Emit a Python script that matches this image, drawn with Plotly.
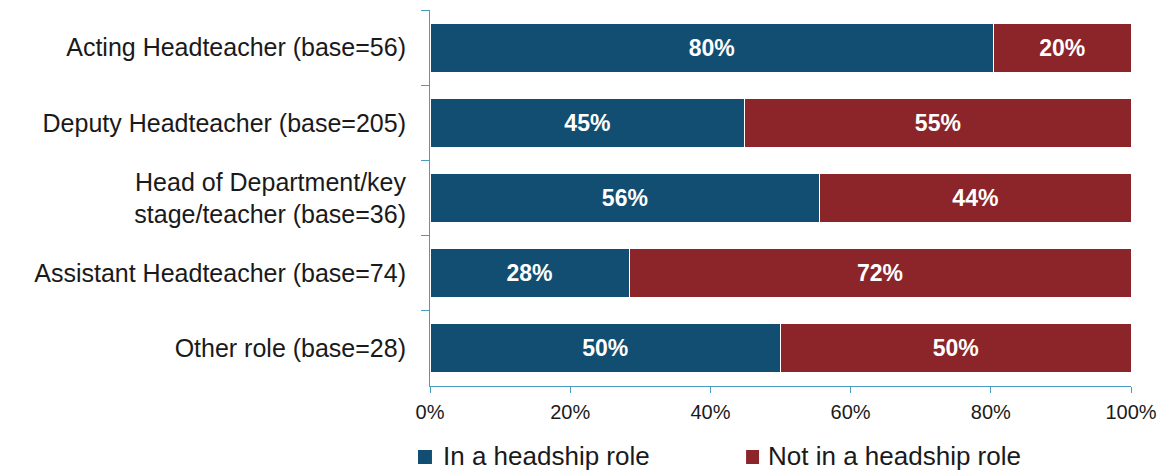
import plotly.graph_objects as go

categories = [
    "Acting Headteacher (base=56)",
    "Deputy Headteacher (base=205)",
    "Head of Department/key<br>stage/teacher (base=36)",
    "Assistant Headteacher (base=74)",
    "Other role (base=28)",
]
in_headship = [80.4, 44.9, 55.6, 28.4, 50.0]
not_headship = [19.6, 55.1, 44.4, 71.6, 50.0]
series_names = ["In a headship role", "Not in a headship role"]
x_ticks = [0, 20, 40, 60, 80, 100]
x_tick_labels = ["0%", "20%", "40%", "60%", "80%", "100%"]

BLUE = "#114E72"
RED = "#8B2529"
AXIS = "#4A9BC2"
FONT = "Liberation Sans, Arial, sans-serif"
colors = [BLUE, RED]

fig = go.Figure()
for name, vals, col in zip(series_names, [in_headship, not_headship], colors):
    fig.add_trace(go.Bar(
        y=categories, x=vals, name=name, orientation="h",
        marker=dict(color=col, line=dict(color="white", width=1)),
        texttemplate="%{x:.0f}%", textposition="inside",
        insidetextanchor="middle",
        textfont=dict(family=FONT, size=23, color="white", weight="bold"),
        hoverinfo="skip", showlegend=False,
    ))

# Legend drawn below the plot (squares + labels)
legend_sq_x = [(-0.0171, 0.0028), (0.4509, 0.4694)]
legend_text_x = [0.0156, 0.4794]
for name, col, (x0, x1), tx in zip(series_names, colors, legend_sq_x, legend_text_x):
    fig.add_shape(type="rect", xref="paper", yref="paper",
                  x0=x0, x1=x1, y0=-0.2074, y1=-0.1702,
                  fillcolor=col, line=dict(width=0))
    fig.add_annotation(xref="paper", yref="paper", x=tx, y=-0.1862,
                       xanchor="left", yanchor="middle", showarrow=False,
                       text=name, font=dict(family=FONT, size=26, color="#1a1a1a"))

fig.update_layout(
    width=1151, height=465,
    barmode="stack", bargap=0.35,
    paper_bgcolor="white", plot_bgcolor="white",
    margin=dict(l=422, r=26, t=2, b=87),
    font=dict(family=FONT, size=24, color="#1a1a1a"),
    showlegend=False,
    uniformtext=dict(mode="show", minsize=10),
)
fig.update_xaxes(
    range=[0, 100], tickvals=x_ticks, ticktext=x_tick_labels,
    showgrid=False, zeroline=False, showline=True, linecolor=AXIS, linewidth=1,
    ticks="outside", ticklen=6, tickcolor=AXIS,
    tickfont=dict(size=20, color="#1a1a1a"), ticklabelstandoff=2,
)
fig.update_yaxes(
    autorange="reversed", showgrid=False, showline=True, linecolor=AXIS, linewidth=1,
    ticks="outside", ticklen=8, tickcolor=AXIS, tickson="boundaries",
    tickfont=dict(size=25, color="#1a1a1a"), ticklabelstandoff=18,
)
fig.write_html("out.html")
